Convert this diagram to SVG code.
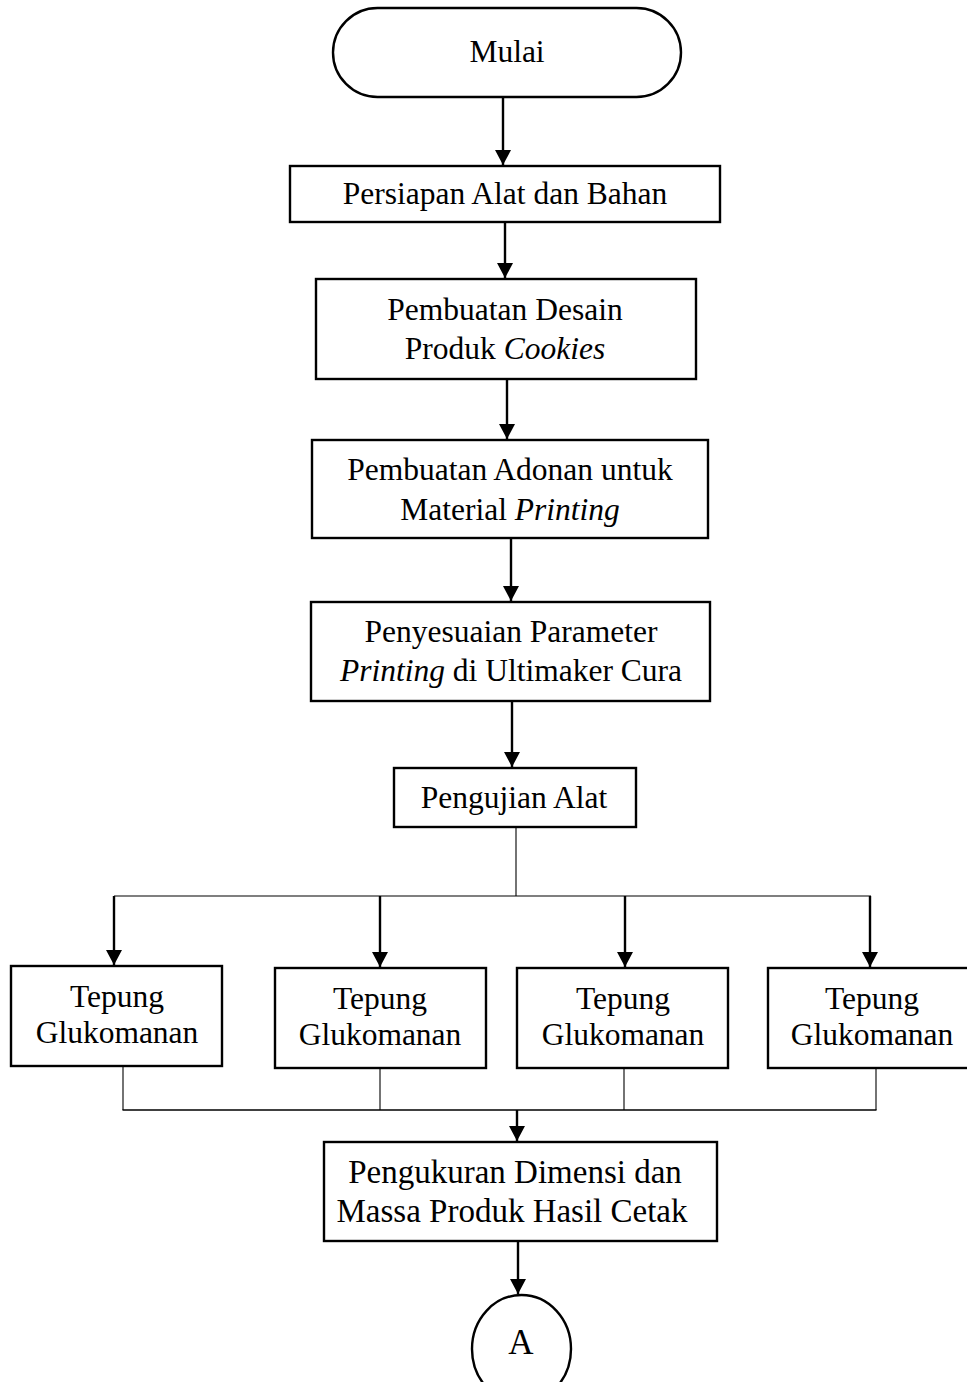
<svg xmlns="http://www.w3.org/2000/svg" width="967" height="1382" viewBox="0 0 967 1382">
<style>
.box{fill:#fff;stroke:#000;stroke-width:2.4}
.t{font-family:"Liberation Serif","Times New Roman",serif;font-size:31.5px;fill:#000;text-anchor:middle}
.tb{font-size:33px}
.i{font-style:italic}
.c{fill:none;stroke:#000;stroke-width:2.4}
.thin{fill:none;stroke:#000;stroke-width:1.1}
</style>
<defs>
<marker id="ah" markerUnits="userSpaceOnUse" viewBox="0 0 15 16" refX="15" refY="8" markerWidth="15" markerHeight="16" orient="auto">
<path d="M0,0 L15,8 L0,16 z" fill="#000"/>
</marker>
</defs>
<rect width="967" height="1382" fill="#fff"/>
<g id="connectors">
<line class="c" x1="503" y1="98" x2="503" y2="165" marker-end="url(#ah)"/>
<line class="c" x1="505" y1="222" x2="505" y2="278" marker-end="url(#ah)"/>
<line class="c" x1="507" y1="380" x2="507" y2="439" marker-end="url(#ah)"/>
<line class="c" x1="511" y1="538" x2="511" y2="601" marker-end="url(#ah)"/>
<line class="c" x1="512" y1="701" x2="512" y2="767" marker-end="url(#ah)"/>
<polyline class="thin" points="516,827 516,896"/>
<line class="thin" x1="114" y1="896" x2="871" y2="896"/>
<line class="c" x1="114" y1="896" x2="114" y2="965" marker-end="url(#ah)"/>
<line class="c" x1="380" y1="896" x2="380" y2="967" marker-end="url(#ah)"/>
<line class="c" x1="625" y1="896" x2="625" y2="967" marker-end="url(#ah)"/>
<line class="c" x1="870" y1="896" x2="870" y2="967" marker-end="url(#ah)"/>
<line class="thin" x1="123" y1="1066" x2="123" y2="1110"/>
<line class="thin" x1="380" y1="1068" x2="380" y2="1110"/>
<line class="thin" x1="624" y1="1068" x2="624" y2="1110"/>
<line class="thin" x1="876" y1="1068" x2="876" y2="1110"/>
<line class="c" x1="122.5" y1="1110" x2="876.5" y2="1110" style="stroke-width:1.5"/>
<line class="c" x1="517" y1="1110" x2="517" y2="1141" marker-end="url(#ah)"/>
<line class="c" x1="518" y1="1241" x2="518" y2="1294" marker-end="url(#ah)"/>
</g>
<g id="mulai">
<rect class="box" x="333" y="8" width="348" height="89" rx="44.5" ry="44.5"/>
<text class="t" x="507" y="62">Mulai</text>
</g>
<g id="persiapan">
<rect class="box" x="290" y="166" width="430" height="56"/>
<text class="t" x="505" y="204">Persiapan Alat dan Bahan</text>
</g>
<g id="desain">
<rect class="box" x="316" y="279" width="380" height="100"/>
<text class="t" x="505" y="320">Pembuatan Desain</text>
<text class="t" x="505" y="359">Produk <tspan class="i">Cookies</tspan></text>
</g>
<g id="adonan">
<rect class="box" x="312" y="440" width="396" height="98"/>
<text class="t" x="510" y="480">Pembuatan Adonan untuk</text>
<text class="t" x="510" y="520">Material <tspan class="i">Printing</tspan></text>
</g>
<g id="parameter">
<rect class="box" x="311" y="602" width="399" height="99"/>
<text class="t" x="511" y="642">Penyesuaian Parameter</text>
<text class="t" x="511" y="681"><tspan class="i">Printing</tspan> di Ultimaker Cura</text>
</g>
<g id="pengujian">
<rect class="box" x="394" y="768" width="242" height="59"/>
<text class="t" x="514" y="808">Pengujian Alat</text>
</g>
<g id="tepung1">
<rect class="box" x="11" y="966" width="211" height="100"/>
<text class="t" x="117" y="1007">Tepung</text>
<text class="t" x="117" y="1043">Glukomanan</text>
</g>
<g id="tepung2">
<rect class="box" x="275" y="968" width="211" height="100"/>
<text class="t" x="380" y="1009">Tepung</text>
<text class="t" x="380" y="1045">Glukomanan</text>
</g>
<g id="tepung3">
<rect class="box" x="517" y="968" width="211" height="100"/>
<text class="t" x="623" y="1009">Tepung</text>
<text class="t" x="623" y="1045">Glukomanan</text>
</g>
<g id="tepung4">
<rect class="box" x="768" y="968" width="210" height="100"/>
<text class="t" x="872" y="1009">Tepung</text>
<text class="t" x="872" y="1045">Glukomanan</text>
</g>
<g id="pengukuran">
<rect class="box" x="324" y="1142" width="393" height="99"/>
<text class="t tb" x="515" y="1183">Pengukuran Dimensi dan</text>
<text class="t tb" x="512" y="1222">Massa Produk Hasil Cetak</text>
</g>
<g id="connectorA">
<ellipse class="box" cx="521.5" cy="1349" rx="49.5" ry="54"/>
<text class="t" x="521" y="1354" style="font-size:35px">A</text>
</g>
</svg>
